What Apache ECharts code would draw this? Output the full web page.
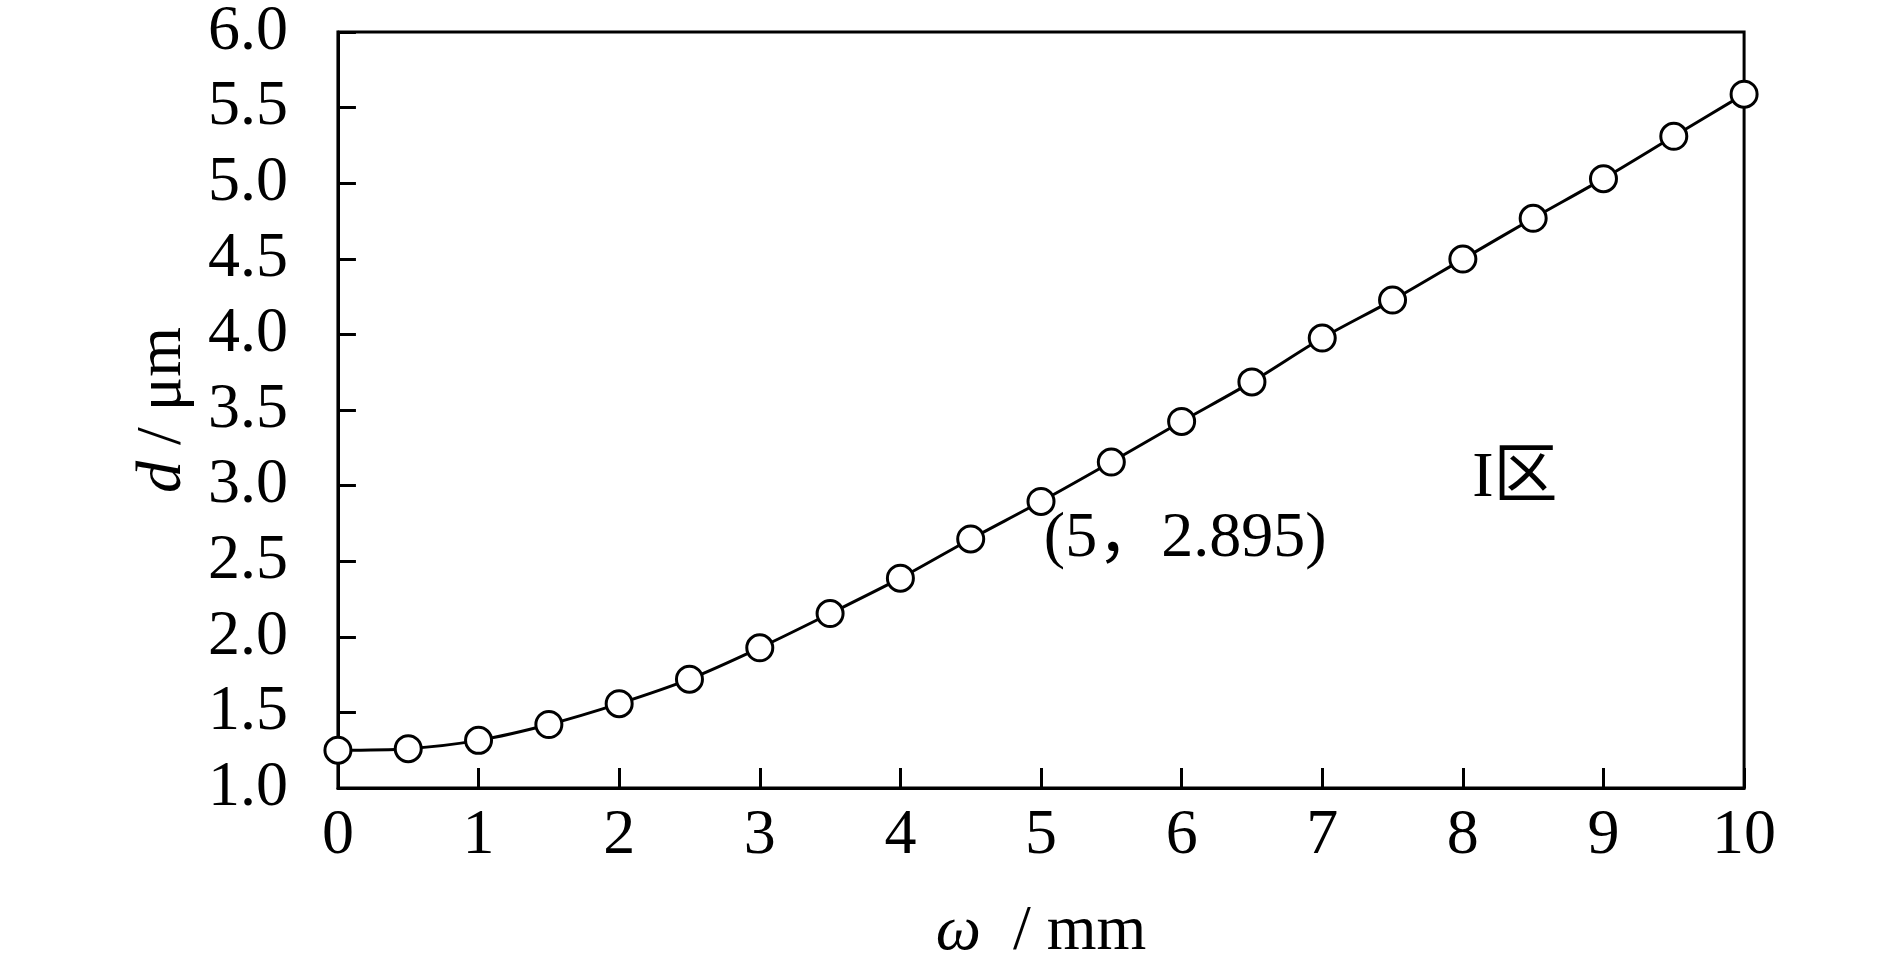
<!DOCTYPE html>
<html>
<head>
<meta charset="utf-8">
<title>d - ω</title>
<script src="https://cdn.jsdelivr.net/npm/echarts@6/dist/echarts.min.js"></script>
<style>
  html, body {margin: 0; padding: 0; background: #fff; overflow: hidden;}
  #chart {width: 100vw; height: 100vh;}
</style>
</head>
<body>
<div id="chart"></div>
<script>
// ω / mm
const omega = [0, 0.5, 1, 1.5, 2, 2.5, 3, 3.5, 4, 4.5, 5, 5.5, 6, 6.5, 7, 7.5, 8, 8.5, 9, 9.5, 10];
// d / μm
const depth = [1.25, 1.26, 1.315, 1.42, 1.558, 1.72, 1.927, 2.154, 2.388, 2.647, 2.895, 3.156,
               3.424, 3.686, 3.976, 4.227, 4.498, 4.768, 5.03, 5.31, 5.589];
// texts placed in the plot (data coords)
const noteX = [5.02, 8.37];
const noteY = [2.645, 3.045];
const noteText = ['(5，2.895)', 'I区'];

const serif = '"Liberation Serif", "Times New Roman", "Noto Sans CJK SC", serif';

const chart = echarts.init(document.getElementById('chart'));

let option = {
  backgroundColor: '#fff',
  animation: false,
  grid: {
    left: '17.88%',
    right: '7.72%',
    top: '3.2%',
    bottom: '17.34%',
    show: true,
    borderColor: '#000',
    borderWidth: 3
  },
  xAxis: {
    type: 'value',
    min: 0,
    max: 10,
    interval: 1,
    name: '{i|ω}  / mm',
    nameLocation: 'middle',
    nameGap: 112,
    nameTextStyle: {
      fontFamily: serif,
      fontSize: 64,
      color: '#000',
      rich: {i: {fontFamily: serif, fontStyle: 'italic', fontSize: 64, color: '#000'}}
    },
    axisLine: {show: true, onZero: false, lineStyle: {color: '#000', width: 3}},
    axisTick: {show: true, inside: true, length: 20, lineStyle: {color: '#000', width: 3}},
    axisLabel: {fontFamily: serif, fontSize: 64, color: '#000', margin: 16},
    splitLine: {show: false}
  },
  yAxis: {
    type: 'value',
    min: 1,
    max: 6,
    interval: 0.5,
    name: '{i|d} / μm',
    nameLocation: 'middle',
    nameGap: 143,
    nameTextStyle: {
      fontFamily: serif,
      fontSize: 64,
      color: '#000',
      rich: {i: {fontFamily: serif, fontStyle: 'italic', fontSize: 64, color: '#000'}}
    },
    axisLine: {show: true, lineStyle: {color: '#000', width: 3}},
    axisTick: {show: true, inside: true, length: 18, lineStyle: {color: '#000', width: 3}},
    axisLabel: {
      fontFamily: serif, fontSize: 64, color: '#000', margin: 50,
      formatter: v => v.toFixed(1)
    },
    splitLine: {show: false}
  },
  series: [
    {
      name: 'd',
      type: 'line',
      smooth: 0.3,
      clip: false,
      data: omega.map((x, i) => [x, depth[i]]),
      symbol: 'circle',
      symbolSize: 26,
      lineStyle: {color: '#000', width: 3},
      itemStyle: {color: '#fff', borderColor: '#000', borderWidth: 3},
      z: 3
    },
    {
      name: 'notes',
      type: 'scatter',
      symbolSize: 0,
      clip: false,
      silent: true,
      itemStyle: {opacity: 1},
      data: noteX.map((x, i) => ({
        value: [x, noteY[i]],
        label: {
          show: true,
          position: 'inside',
          formatter: noteText[i],
          align: i === 0 ? 'left' : 'center',
          verticalAlign: 'middle',
          fontFamily: serif,
          fontSize: 64,
          color: '#000',
          opacity: 1
        }
      })),
      z: 4
    }
  ]
};

chart.setOption(option);
</script>
</body>
</html>
